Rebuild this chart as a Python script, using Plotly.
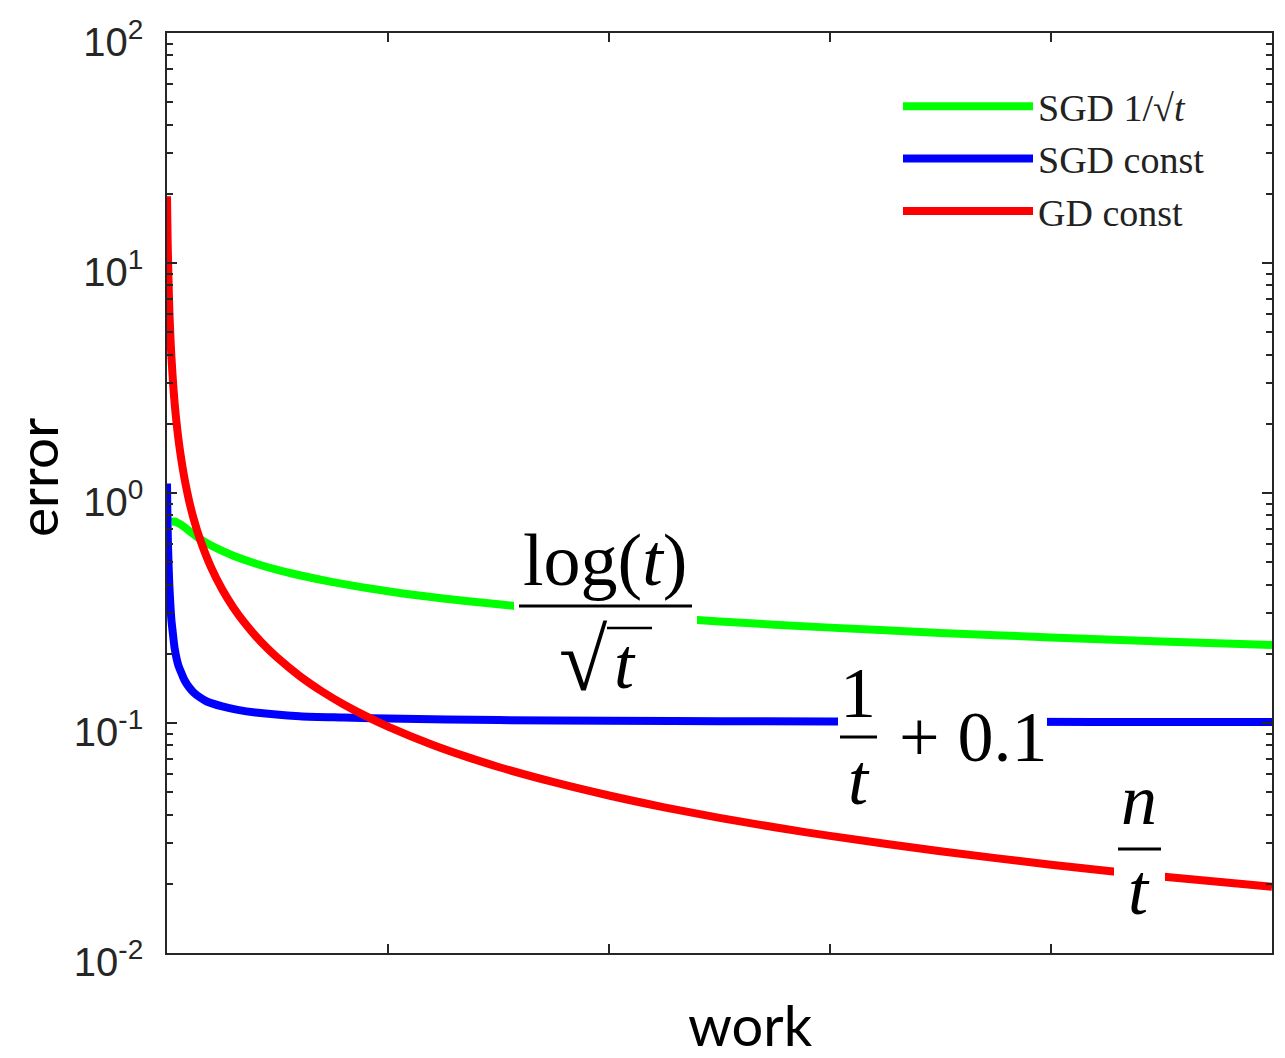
import plotly.graph_objects as go

# ---------------- data ----------------
work_sgd_sqrt = [0.02, 0.035, 0.05, 0.075, 0.10, 0.12, 0.15, 0.20, 0.25, 0.30, 0.40, 0.50, 0.60, 0.75,
                 1.00, 1.25, 1.50, 1.75, 2.00, 2.50, 3.00, 3.50, 4.00, 4.50, 5.00]
err_sgd_sqrt  = [0.75, 0.752, 0.74, 0.715, 0.685, 0.662, 0.630, 0.591, 0.560, 0.534, 0.494, 0.463, 0.439, 0.410,
                 0.374, 0.348, 0.328, 0.3116, 0.298, 0.2764, 0.2598, 0.2465, 0.2355, 0.2261, 0.2181]

work_sgd_const = [0.0, 0.0015, 0.003, 0.0045, 0.006, 0.01, 0.015, 0.02, 0.027, 0.035, 0.05, 0.065, 0.08, 0.10,
                  0.12, 0.15, 0.18, 0.25, 0.32, 0.40, 0.60, 0.80, 1.00, 1.50, 2.00, 2.50, 3.50, 4.20, 5.00]
err_sgd_const  = [1.10, 0.85, 0.70, 0.60, 0.53, 0.41, 0.33, 0.28, 0.243, 0.21, 0.18, 0.165, 0.153, 0.143,
                  0.136, 0.129, 0.124, 0.118, 0.114, 0.111, 0.107, 0.1056, 0.1045, 0.103, 0.1022, 0.1018, 0.1013, 0.1011, 0.1009]

work_gd = [0.0, 0.0025, 0.005, 0.01, 0.015, 0.02, 0.03, 0.04, 0.055, 0.07, 0.085, 0.10, 0.12, 0.15, 0.20, 0.25,
           0.30, 0.35, 0.40, 0.45, 0.50, 0.60, 0.70, 0.80, 0.90, 1.00, 1.20, 1.35, 1.50, 1.75, 2.00, 2.25, 2.50,
           2.75, 3.00, 3.50, 4.00, 4.50, 5.00]
err_gd  = [19.5, 13.1, 10.0, 6.5, 4.87, 3.9, 2.78, 2.16, 1.62, 1.30, 1.08, 0.925, 0.776, 0.627, 0.4734, 0.3805,
           0.3181, 0.2733, 0.2396, 0.2131, 0.1920, 0.1601, 0.1374, 0.1203, 0.1071, 0.0965, 0.0805, 0.0716, 0.0644, 0.0553,
           0.0484, 0.0430, 0.0387, 0.0352, 0.0323, 0.0277, 0.0242, 0.0215, 0.0194]

series_names = ["SGD 1/√<i>t</i>", "SGD const", "GD const"]
series_colors = ["#00ff00", "#0000ff", "#ff0000"]

x_ticks = [1, 2, 3, 4]
y_tickvals = [0.01, 0.1, 1, 10, 100]
y_ticktext = ["10<sup>-2</sup>", "10<sup>-1</sup>", "10<sup>0</sup>", "10<sup>1</sup>", "10<sup>2</sup>"]
y_minor = [m * 10 ** e for e in (-2, -1, 0, 1) for m in range(2, 10)]

# ---------------- layout helpers (pixel -> paper) ----------------
W, H = 1285, 1058
L, R, T, B = 167, 13, 33, 105
PW, PH = W - L - R, H - T - B


def px(x):
    return (x - L) / PW


def py(y):
    return (T + PH - y) / PH


AX = "#262626"
MATH_FONT = "Liberation Serif"

fig = go.Figure()
for wx, ey, name, col in [
    (work_sgd_sqrt, err_sgd_sqrt, series_names[0], series_colors[0]),
    (work_sgd_const, err_sgd_const, series_names[1], series_colors[1]),
    (work_gd, err_gd, series_names[2], series_colors[2]),
]:
    fig.add_trace(go.Scatter(x=wx, y=ey, mode="lines", name=name,
                             line=dict(color=col, width=8, shape="spline", smoothing=0.8)))

fig.update_layout(
    width=W, height=H,
    margin=dict(l=L, r=R, t=T, b=B),
    paper_bgcolor="white", plot_bgcolor="white",
    showlegend=True,
    legend=dict(x=px(1210), y=py(75), xanchor="right", yanchor="top",
                bgcolor="rgba(0,0,0,0)", borderwidth=0,
                font=dict(family=MATH_FONT, size=38, color="#222222"),
                itemwidth=130, tracegroupgap=0),
    xaxis=dict(range=[0, 5], showgrid=False, zeroline=False,
               showline=True, linecolor=AX, linewidth=1.5, mirror="ticks",
               ticks="inside", ticklen=9, tickwidth=1.5, tickcolor=AX,
               tickmode="array", tickvals=x_ticks, showticklabels=False),
    yaxis=dict(type="log", range=[-2, 2], showgrid=False, zeroline=False,
               showline=True, linecolor=AX, linewidth=1.5, mirror="ticks",
               ticks="inside", ticklen=10, tickwidth=1.5, tickcolor=AX,
               tickmode="array", tickvals=y_tickvals, ticktext=y_ticktext,
               tickfont=dict(family="Liberation Sans", size=40, color=AX),
               ticklabelstandoff=14, ticklabelshift=9,
               minor=dict(ticks="inside", ticklen=6, tickwidth=1.5, tickcolor=AX,
                          tickmode="array", tickvals=y_minor, showgrid=False)),
)

# axis titles
fig.add_annotation(text="work", xref="paper", yref="paper", x=px(750), y=py(1024),
                   showarrow=False, font=dict(family="Lato", size=56, color="black"),
                   xanchor="center", yanchor="middle")
fig.add_annotation(text="error", xref="paper", yref="paper", x=px(37), y=py(478),
                   showarrow=False, textangle=-90, borderpad=0,
                   font=dict(family="Lato", size=55, color="black"),
                   xanchor="center", yanchor="middle")

# white boxes behind formula labels
for (x0, x1, y0, y1) in [(514, 697, 520, 700), (838, 1047, 660, 815), (1114, 1165, 775, 930)]:
    fig.add_shape(type="rect", xref="paper", yref="paper",
                  x0=px(x0), x1=px(x1), y0=py(y1), y1=py(y0),
                  fillcolor="white", line=dict(width=0), layer="above")

# fraction bars and radical vinculum
for (x0, x1, y, wd) in [(519, 692, 606, 3), (840, 877, 737, 3), (1118, 1161, 849, 3), (607, 652, 628, 2.5)]:
    fig.add_shape(type="line", xref="paper", yref="paper",
                  x0=px(x0), x1=px(x1), y0=py(y), y1=py(y),
                  line=dict(color="black", width=wd), layer="above")


def label(text, x, y, xanchor="center", size=72):
    fig.add_annotation(text=text, xref="paper", yref="paper", x=px(x), y=py(y),
                       showarrow=False, font=dict(family=MATH_FONT, size=size, color="black"),
                       xanchor=xanchor, yanchor="middle")


label("log(<i>t</i>)", 605, 560, size=74)
label("√", 610, 660, xanchor="right", size=88)
label("<i>t</i>", 612, 664, xanchor="left")
label("1", 858, 693)
label("<i>t</i>", 859, 780)
label("+ 0.1", 897, 737, xanchor="left")
label("<i>n</i>", 1139, 800)
label("<i>t</i>", 1139, 890)

fig.write_html("out.html")
